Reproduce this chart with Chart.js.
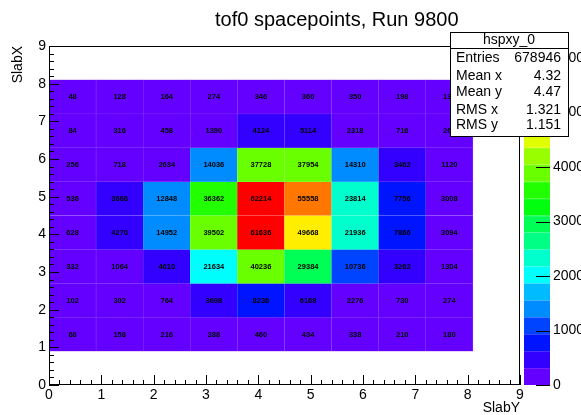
<!DOCTYPE html>
<html><head><meta charset="utf-8">
<script src="https://cdn.jsdelivr.net/npm/chart.js@4.4.1/dist/chart.umd.min.js"></script>
<style>html,body{margin:0;padding:0;background:#fff;overflow:hidden}#wrap{width:581px;height:415px;position:relative}</style>
</head><body><div id="wrap"><canvas id="c" width="581" height="415"></canvas></div>
<script>
// ---- data ----
const chartTitle = 'tof0 spacepoints, Run 9800';
const xAxisTitle = 'SlabY';
const yAxisTitle = 'SlabX';
const xBinEdges = [0, 0.9, 1.8, 2.7, 3.6, 4.5, 5.4, 6.3, 7.2, 8.1];
const yBinEdges = [0.9, 1.8, 2.7, 3.6, 4.5, 5.4, 6.3, 7.2, 8.1];
const countsRow1 = [68, 158, 216, 388, 460, 434, 338, 210, 180];
const countsRow2 = [102, 302, 764, 3698, 8236, 6168, 2276, 730, 274];
const countsRow3 = [332, 1064, 4610, 21634, 40236, 29384, 10736, 3262, 1304];
const countsRow4 = [628, 4270, 14952, 39502, 61636, 49668, 21936, 7866, 3094];
const countsRow5 = [536, 3668, 12848, 36362, 62214, 55558, 23814, 7756, 3008];
const countsRow6 = [256, 718, 2634, 14036, 37728, 37954, 14310, 3462, 1120];
const countsRow7 = [84, 316, 458, 1390, 4124, 5114, 2318, 716, 264];
const countsRow8 = [48, 128, 164, 274, 346, 360, 350, 198, 132];
const xTickValues = [0, 1, 2, 3, 4, 5, 6, 7, 8, 9];
const yTickValues = [0, 1, 2, 3, 4, 5, 6, 7, 8, 9];
const zTickValues = [0, 10000, 20000, 30000, 40000, 50000, 60000];
const statsName = 'hspxy_0';
const statsLabels = ['Entries', 'Mean x', 'Mean y', 'RMS x', 'RMS y'];
const statsValues = ['678946', '4.32', '4.47', '1.321', '1.151'];

// ---- style ----
const FONT = "'Liberation Sans', Arial, Helvetica, sans-serif";
const paletteRGB = [
  [99,0,255],[51,0,255],[0,20,255],[0,68,255],[0,139,255],
  [0,187,255],[0,255,252],[0,255,204],[0,255,133],[0,255,85],
  [0,255,14],[34,255,0],[105,255,0],[153,255,0],[224,255,0],
  [255,238,0],[255,167,0],[255,119,0],[255,48,0],[255,0,0]
];
const NLEV = paletteRGB.length;
const rgb = a => `rgb(${a[0]},${a[1]},${a[2]})`;
const lighter = a => `rgb(${a.map(c => Math.round(c + (255 - c) * 0.3)).join(',')})`;

const rows = [countsRow1, countsRow2, countsRow3, countsRow4, countsRow5, countsRow6, countsRow7, countsRow8];
const zMax = Math.max(...rows.flat());
const level = v => Math.min(NLEV - 1, Math.floor(v / zMax * NLEV));
const cells = [];
rows.forEach((row, j) => row.forEach((v, i) => {
  cells.push({ x: (xBinEdges[i] + xBinEdges[i + 1]) / 2, y: [yBinEdges[j], yBinEdges[j + 1]], v: v });
}));

const noPad = s => { s.paddingTop = 0; s.paddingBottom = 0; s.paddingLeft = 0; s.paddingRight = 0; };

const rootDecor = {
  id: 'rootDecor',
  beforeDraw(chart) {
    const ctx = chart.ctx;
    ctx.save(); ctx.fillStyle = '#fff'; ctx.fillRect(0, 0, chart.width, chart.height); ctx.restore();
  },
  afterDatasetsDraw(chart) {
    const ctx = chart.ctx;
    const meta = chart.getDatasetMeta(0);
    ctx.save();
    ctx.fillStyle = '#000';
    ctx.font = 'bold 7.5px ' + FONT;
    ctx.textAlign = 'center';
    ctx.textBaseline = 'middle';
    meta.data.forEach((el, i) => {
      const p = el.getCenterPoint();
      ctx.fillText(String(cells[i].v), p.x, p.y + 0.5);
    });
    ctx.restore();
  },
  afterDraw(chart) {
    const ctx = chart.ctx;
    const a = chart.chartArea;
    const xs = chart.scales.x, ys = chart.scales.y, zs = chart.scales.z;
    ctx.save();
    // frame
    ctx.strokeStyle = '#000';
    ctx.lineWidth = 1;
    ctx.strokeRect(a.left + 0.5, a.top + 0.5, a.right - a.left - 1, a.bottom - a.top - 1);
    // inward ticks
    ctx.beginPath();
    for (let i = 0; i <= 45; i++) {
      const v = i / 5;
      const len = (i % 5 === 0) ? 10 : 5;
      const px = Math.round(xs.getPixelForValue(v)) + 0.5;
      ctx.moveTo(px, a.bottom); ctx.lineTo(px, a.bottom - len);
      const py = Math.round(ys.getPixelForValue(v)) + 0.5;
      ctx.moveTo(a.left, py); ctx.lineTo(a.left + len, py);
    }
    ctx.stroke();
    // colour bar
    const cbL = 524, cbR = 550;
    for (let k = 0; k < NLEV; k++) {
      const y0 = zs.getPixelForValue(k * zMax / NLEV);
      const y1 = zs.getPixelForValue((k + 1) * zMax / NLEV);
      ctx.fillStyle = rgb(paletteRGB[k]);
      ctx.fillRect(cbL, y1, cbR - cbL, y0 - y1);
      ctx.fillStyle = 'rgba(255,255,255,0.18)';
      ctx.fillRect(cbL, Math.round(y1), cbR - cbL, 0.6);
    }
    ctx.beginPath();
    zTickValues.forEach(v => {
      const py = Math.round(zs.getPixelForValue(v)) + 0.5;
      ctx.moveTo(cbR - 14, py); ctx.lineTo(cbR, py);
    });
    ctx.strokeStyle = '#000';
    ctx.stroke();
    // title
    ctx.fillStyle = '#000';
    ctx.font = '20px ' + FONT;
    ctx.textAlign = 'left';
    ctx.textBaseline = 'alphabetic';
    ctx.fillText(chartTitle, 215, 26);
    // stats box
    const bx = 450, by = 32, bw = 118, bh = 104;
    ctx.fillStyle = '#fff';
    ctx.fillRect(bx, by, bw, bh);
    ctx.strokeStyle = '#000';
    ctx.strokeRect(bx + 0.5, by + 0.5, bw, bh);
    ctx.beginPath(); ctx.moveTo(bx, by + 16.5); ctx.lineTo(bx + bw, by + 16.5); ctx.stroke();
    ctx.fillStyle = '#000';
    ctx.font = '14px ' + FONT;
    ctx.textBaseline = 'middle';
    ctx.textAlign = 'center';
    ctx.fillText(statsName, bx + bw / 2, by + 8.5);
    const rowY = [58, 76, 92, 110, 125];
    statsLabels.forEach((lab, i) => {
      ctx.textAlign = 'left';
      ctx.fillText(lab, bx + 6, rowY[i]);
      ctx.textAlign = 'right';
      ctx.fillText(statsValues[i], bx + bw - 7, rowY[i]);
    });
    ctx.restore();
  }
};

new Chart(document.getElementById('c').getContext('2d'), {
  type: 'bar',
  data: {
    datasets: [{
      data: cells,
      backgroundColor: c => c.raw ? rgb(paletteRGB[level(c.raw.v)]) : '#000',
      borderColor: c => c.raw ? lighter(paletteRGB[level(c.raw.v)]) : '#000',
      borderWidth: 0.5,
      borderSkipped: false,
      barPercentage: 1,
      categoryPercentage: 1,
      grouped: false
    }]
  },
  options: {
    responsive: false,
    animation: false,
    devicePixelRatio: 1,
    layout: { padding: { top: 46, left: 0, right: 0, bottom: 0 } },
    plugins: { legend: { display: false }, tooltip: { enabled: false }, title: { display: false } },
    scales: {
      x: {
        type: 'linear', min: 0, max: 9, offset: false,
        afterBuildTicks: s => { s.ticks = xTickValues.map(v => ({ value: v })); },
        afterFit: s => { s.height = 30; noPad(s); },
        grid: { display: false, drawTicks: false, offset: false },
        border: { display: false },
        ticks: { font: { family: FONT, size: 14 }, color: '#000', padding: 2, maxRotation: 0, autoSkip: false, callback: v => String(v) },
        title: { display: true, text: xAxisTitle, align: 'end', color: '#000', font: { family: FONT, size: 14, lineHeight: 1 }, padding: 0 }
      },
      y: {
        type: 'linear', min: 0, max: 9,
        afterBuildTicks: s => { s.ticks = yTickValues.map(v => ({ value: v })); },
        afterFit: s => { s.width = 49; noPad(s); },
        grid: { display: false, drawTicks: false },
        border: { display: false },
        ticks: { font: { family: FONT, size: 14 }, color: '#000', padding: 3, autoSkip: false, callback: v => String(v) },
        title: { display: true, text: yAxisTitle, align: 'end', color: '#000', font: { family: FONT, size: 14, lineHeight: 1 }, padding: { top: 11, bottom: 0 } }
      },
      z: {
        axis: 'y', type: 'linear', position: 'right', min: 0, max: zMax,
        afterBuildTicks: s => { s.ticks = zTickValues.map(v => ({ value: v })); },
        afterFit: s => { s.width = 61; noPad(s); },
        grid: { display: false, drawTicks: false },
        border: { display: false },
        ticks: { font: { family: FONT, size: 14 }, color: '#000', padding: 33, autoSkip: false, callback: v => String(v) }
      }
    }
  },
  plugins: [rootDecor]
});
</script>
</body></html>
